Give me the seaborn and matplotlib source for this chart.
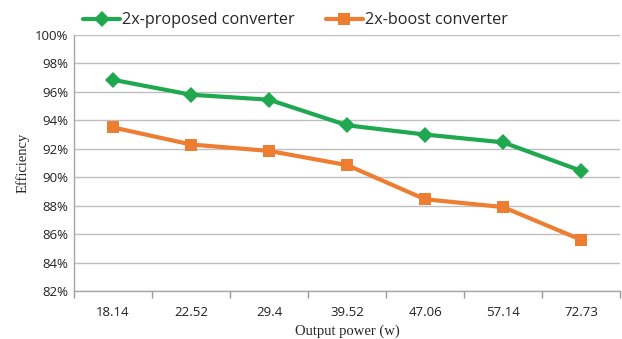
import matplotlib
matplotlib.use("Agg")
import matplotlib.pyplot as plt
import seaborn as sns
import pandas as pd
from matplotlib.ticker import FixedLocator, FuncFormatter
from matplotlib.lines import Line2D

# Output power (w) categories
power_labels = ["18.14", "22.52", "29.4", "39.52", "47.06", "57.14", "72.73"]
# Efficiency in percent
proposed_eff = [96.85, 95.8, 95.45, 93.65, 93.0, 92.45, 90.45]
boost_eff = [93.5, 92.3, 91.85, 90.85, 88.45, 87.9, 85.6]
series_names = ["2x-proposed converter", "2x-boost converter"]
y_ticks = [82, 84, 86, 88, 90, 92, 94, 96, 98, 100]

green = "#1FA84F"
orange = "#ED7D31"

df = pd.DataFrame({
    "power": power_labels * 2,
    "pos": list(range(len(power_labels))) * 2,
    "eff": proposed_eff + boost_eff,
    "series": [series_names[0]] * len(power_labels) + [series_names[1]] * len(power_labels),
})

sns.set_theme(style="white")
plt.rcParams["font.family"] = ["Open Sans", "DejaVu Sans"]

fig = plt.figure(figsize=(6.22, 3.39), dpi=100)
ax = fig.add_axes([0.119, 0.1416, 0.878, 0.7552])

sns.lineplot(
    data=df, x="pos", y="eff", hue="series", style="series",
    palette={series_names[0]: green, series_names[1]: orange},
    markers={series_names[0]: "D", series_names[1]: "s"},
    dashes=False, sort=False, linewidth=3.0, markersize=8.5,
    markeredgewidth=0, ax=ax, legend=False,
)

ax.set_xlim(-0.5, len(power_labels) - 0.5)
ax.set_ylim(82, 100)
ax.yaxis.set_major_locator(FixedLocator(y_ticks))
ax.yaxis.set_major_formatter(FuncFormatter(lambda v, _: f"{v:.0f}%"))
ax.grid(axis="y", color="#BFBFBF", linewidth=1.0)
ax.set_axisbelow(True)

ax.set_xticks(range(len(power_labels)))
ax.set_xticklabels(power_labels)
ax.set_xticks([i - 0.5 for i in range(len(power_labels) + 1)], minor=True)
ax.tick_params(axis="x", which="major", length=0, pad=11, labelsize=9.5, colors="#222222")
ax.tick_params(axis="x", which="minor", length=5, width=1, color="#999999", bottom=True)
ax.tick_params(axis="y", length=0, pad=4, labelsize=9.5, colors="#222222")

for side in ["top", "right"]:
    ax.spines[side].set_visible(False)
for side in ["left", "bottom"]:
    ax.spines[side].set_color("#A6A6A6")
    ax.spines[side].set_linewidth(1.0)

ax.set_xlabel("Output power (w)", family="Liberation Serif", fontsize=10.5, labelpad=4)
ax.set_ylabel("Efficiency", family="Liberation Serif", fontsize=10.5, labelpad=4)

handles = [
    Line2D([], [], color=green, marker="D", linewidth=3.0, markersize=8.5, markeredgewidth=0),
    Line2D([], [], color=orange, marker="s", linewidth=3.0, markersize=8.5, markeredgewidth=0),
]
fig.legend(handles, series_names, loc="center", bbox_to_anchor=(0.475, 0.94),
           ncol=2, frameon=False, fontsize=11.7, handlelength=2.3,
           handletextpad=0.12, columnspacing=1.9)

fig.savefig("out.png", dpi=100)
